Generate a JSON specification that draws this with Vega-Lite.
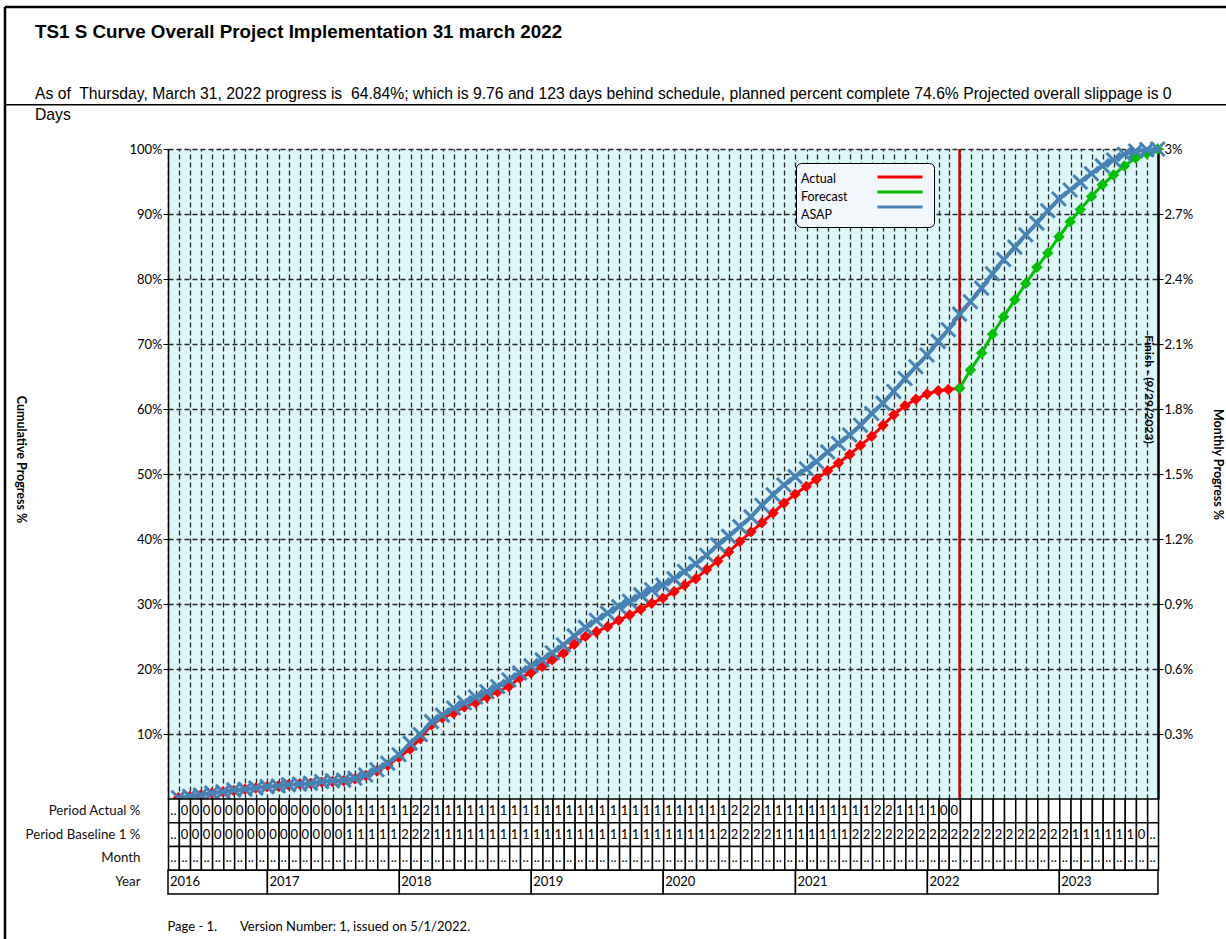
{
"$schema": "https://vega.github.io/schema/vega-lite/v6.json",
"width": 990,
"height": 745,
"autosize": {"type": "none"},
"padding": {"left": 168, "top": 149, "right": 68, "bottom": 45},
"background": "white",
"config": {
  "font": "Lato",
  "view": {"fill": "#DDF6F8", "stroke": null},
  "axis": {"labelFont": "Lato", "titleFont": "Lato", "labelColor": "black", "titleColor": "black", "domainColor": "black", "tickColor": "black"}
},
"title": {
  "text": "TS1 S Curve Overall Project Implementation 31 march 2022",
  "subtitle": ["As of\u00a0 Thursday, March 31, 2022 progress is\u00a0 64.84%; which is 9.76 and 123 days behind schedule, planned percent complete 74.6% Projected overall slippage is 0", "Days"],
  "anchor": "start", "frame": "group", "orient": "top",
  "dx": -133, "offset": -117,
  "font": "Liberation Sans", "fontSize": 18.8, "fontWeight": "bold", "color": "black",
  "subtitleFont": "Liberation Sans", "subtitleFontSize": 15.7, "subtitleColor": "black",
  "subtitlePadding": 45, "subtitleLineHeight": 21
},
"datasets": {
  "months": [
    {"d":"2016-04-30","ASAP":0.2,"Actual":0.2,"Forecast":null,"Period Actual %":"..","Period Baseline 1 %":"..","Month":".."},
    {"d":"2016-05-31","ASAP":0.4,"Actual":0.4,"Forecast":null,"Period Actual %":"0","Period Baseline 1 %":"0","Month":".."},
    {"d":"2016-06-30","ASAP":0.6,"Actual":0.6,"Forecast":null,"Period Actual %":"0","Period Baseline 1 %":"0","Month":".."},
    {"d":"2016-07-31","ASAP":0.9,"Actual":0.9,"Forecast":null,"Period Actual %":"0","Period Baseline 1 %":"0","Month":".."},
    {"d":"2016-08-31","ASAP":1.1,"Actual":1.1,"Forecast":null,"Period Actual %":"0","Period Baseline 1 %":"0","Month":".."},
    {"d":"2016-09-30","ASAP":1.4,"Actual":1.3,"Forecast":null,"Period Actual %":"0","Period Baseline 1 %":"0","Month":".."},
    {"d":"2016-10-31","ASAP":1.5,"Actual":1.5,"Forecast":null,"Period Actual %":"0","Period Baseline 1 %":"0","Month":".."},
    {"d":"2016-11-30","ASAP":1.7,"Actual":1.7,"Forecast":null,"Period Actual %":"0","Period Baseline 1 %":"0","Month":".."},
    {"d":"2016-12-31","ASAP":1.9,"Actual":1.9,"Forecast":null,"Period Actual %":"0","Period Baseline 1 %":"0","Month":".."},
    {"d":"2017-01-31","ASAP":2.0,"Actual":2.0,"Forecast":null,"Period Actual %":"0","Period Baseline 1 %":"0","Month":".."},
    {"d":"2017-02-28","ASAP":2.2,"Actual":2.2,"Forecast":null,"Period Actual %":"0","Period Baseline 1 %":"0","Month":".."},
    {"d":"2017-03-31","ASAP":2.3,"Actual":2.3,"Forecast":null,"Period Actual %":"0","Period Baseline 1 %":"0","Month":".."},
    {"d":"2017-04-30","ASAP":2.4,"Actual":2.4,"Forecast":null,"Period Actual %":"0","Period Baseline 1 %":"0","Month":".."},
    {"d":"2017-05-31","ASAP":2.7,"Actual":2.6,"Forecast":null,"Period Actual %":"0","Period Baseline 1 %":"0","Month":".."},
    {"d":"2017-06-30","ASAP":2.8,"Actual":2.7,"Forecast":null,"Period Actual %":"0","Period Baseline 1 %":"0","Month":".."},
    {"d":"2017-07-31","ASAP":2.9,"Actual":2.8,"Forecast":null,"Period Actual %":"0","Period Baseline 1 %":"0","Month":".."},
    {"d":"2017-08-31","ASAP":3.2,"Actual":3.1,"Forecast":null,"Period Actual %":"1","Period Baseline 1 %":"1","Month":".."},
    {"d":"2017-09-30","ASAP":3.7,"Actual":3.6,"Forecast":null,"Period Actual %":"1","Period Baseline 1 %":"1","Month":".."},
    {"d":"2017-10-31","ASAP":4.5,"Actual":4.3,"Forecast":null,"Period Actual %":"1","Period Baseline 1 %":"1","Month":".."},
    {"d":"2017-11-30","ASAP":5.5,"Actual":5.2,"Forecast":null,"Period Actual %":"1","Period Baseline 1 %":"1","Month":".."},
    {"d":"2017-12-31","ASAP":6.8,"Actual":6.4,"Forecast":null,"Period Actual %":"1","Period Baseline 1 %":"1","Month":".."},
    {"d":"2018-01-31","ASAP":8.6,"Actual":7.7,"Forecast":null,"Period Actual %":"1","Period Baseline 1 %":"2","Month":".."},
    {"d":"2018-02-28","ASAP":9.9,"Actual":9.3,"Forecast":null,"Period Actual %":"2","Period Baseline 1 %":"2","Month":".."},
    {"d":"2018-03-31","ASAP":11.9,"Actual":11.4,"Forecast":null,"Period Actual %":"2","Period Baseline 1 %":"2","Month":".."},
    {"d":"2018-04-30","ASAP":12.9,"Actual":12.5,"Forecast":null,"Period Actual %":"1","Period Baseline 1 %":"1","Month":".."},
    {"d":"2018-05-31","ASAP":14.0,"Actual":13.2,"Forecast":null,"Period Actual %":"1","Period Baseline 1 %":"1","Month":".."},
    {"d":"2018-06-30","ASAP":14.8,"Actual":14.2,"Forecast":null,"Period Actual %":"1","Period Baseline 1 %":"1","Month":".."},
    {"d":"2018-07-31","ASAP":15.7,"Actual":14.8,"Forecast":null,"Period Actual %":"1","Period Baseline 1 %":"1","Month":".."},
    {"d":"2018-08-31","ASAP":16.5,"Actual":15.7,"Forecast":null,"Period Actual %":"1","Period Baseline 1 %":"1","Month":".."},
    {"d":"2018-09-30","ASAP":17.3,"Actual":16.5,"Forecast":null,"Period Actual %":"1","Period Baseline 1 %":"1","Month":".."},
    {"d":"2018-10-31","ASAP":18.3,"Actual":17.3,"Forecast":null,"Period Actual %":"1","Period Baseline 1 %":"1","Month":".."},
    {"d":"2018-11-30","ASAP":19.4,"Actual":18.6,"Forecast":null,"Period Actual %":"1","Period Baseline 1 %":"1","Month":".."},
    {"d":"2018-12-31","ASAP":20.5,"Actual":19.4,"Forecast":null,"Period Actual %":"1","Period Baseline 1 %":"1","Month":".."},
    {"d":"2019-01-31","ASAP":21.4,"Actual":20.4,"Forecast":null,"Period Actual %":"1","Period Baseline 1 %":"1","Month":".."},
    {"d":"2019-02-28","ASAP":22.5,"Actual":21.4,"Forecast":null,"Period Actual %":"1","Period Baseline 1 %":"1","Month":".."},
    {"d":"2019-03-31","ASAP":23.7,"Actual":22.4,"Forecast":null,"Period Actual %":"1","Period Baseline 1 %":"1","Month":".."},
    {"d":"2019-04-30","ASAP":25.1,"Actual":23.8,"Forecast":null,"Period Actual %":"1","Period Baseline 1 %":"1","Month":".."},
    {"d":"2019-05-31","ASAP":26.4,"Actual":25.0,"Forecast":null,"Period Actual %":"1","Period Baseline 1 %":"1","Month":".."},
    {"d":"2019-06-30","ASAP":27.5,"Actual":25.7,"Forecast":null,"Period Actual %":"1","Period Baseline 1 %":"1","Month":".."},
    {"d":"2019-07-31","ASAP":28.6,"Actual":26.5,"Forecast":null,"Period Actual %":"1","Period Baseline 1 %":"1","Month":".."},
    {"d":"2019-08-31","ASAP":29.6,"Actual":27.5,"Forecast":null,"Period Actual %":"1","Period Baseline 1 %":"1","Month":".."},
    {"d":"2019-09-30","ASAP":30.4,"Actual":28.3,"Forecast":null,"Period Actual %":"1","Period Baseline 1 %":"1","Month":".."},
    {"d":"2019-10-31","ASAP":31.4,"Actual":29.2,"Forecast":null,"Period Actual %":"1","Period Baseline 1 %":"1","Month":".."},
    {"d":"2019-11-30","ASAP":32.2,"Actual":30.1,"Forecast":null,"Period Actual %":"1","Period Baseline 1 %":"1","Month":".."},
    {"d":"2019-12-31","ASAP":32.9,"Actual":30.9,"Forecast":null,"Period Actual %":"1","Period Baseline 1 %":"1","Month":".."},
    {"d":"2020-01-31","ASAP":33.9,"Actual":31.9,"Forecast":null,"Period Actual %":"1","Period Baseline 1 %":"1","Month":".."},
    {"d":"2020-02-29","ASAP":35.0,"Actual":32.9,"Forecast":null,"Period Actual %":"1","Period Baseline 1 %":"1","Month":".."},
    {"d":"2020-03-31","ASAP":36.2,"Actual":33.9,"Forecast":null,"Period Actual %":"1","Period Baseline 1 %":"1","Month":".."},
    {"d":"2020-04-30","ASAP":37.5,"Actual":35.3,"Forecast":null,"Period Actual %":"1","Period Baseline 1 %":"1","Month":".."},
    {"d":"2020-05-31","ASAP":39.1,"Actual":36.6,"Forecast":null,"Period Actual %":"1","Period Baseline 1 %":"1","Month":".."},
    {"d":"2020-06-30","ASAP":40.4,"Actual":38.0,"Forecast":null,"Period Actual %":"1","Period Baseline 1 %":"2","Month":".."},
    {"d":"2020-07-31","ASAP":41.9,"Actual":39.6,"Forecast":null,"Period Actual %":"2","Period Baseline 1 %":"2","Month":".."},
    {"d":"2020-08-31","ASAP":43.4,"Actual":41.1,"Forecast":null,"Period Actual %":"2","Period Baseline 1 %":"2","Month":".."},
    {"d":"2020-09-30","ASAP":45.2,"Actual":42.5,"Forecast":null,"Period Actual %":"2","Period Baseline 1 %":"2","Month":".."},
    {"d":"2020-10-31","ASAP":46.8,"Actual":44.0,"Forecast":null,"Period Actual %":"1","Period Baseline 1 %":"2","Month":".."},
    {"d":"2020-11-30","ASAP":48.3,"Actual":45.5,"Forecast":null,"Period Actual %":"1","Period Baseline 1 %":"1","Month":".."},
    {"d":"2020-12-31","ASAP":49.6,"Actual":46.9,"Forecast":null,"Period Actual %":"1","Period Baseline 1 %":"1","Month":".."},
    {"d":"2021-01-31","ASAP":50.8,"Actual":48.1,"Forecast":null,"Period Actual %":"1","Period Baseline 1 %":"1","Month":".."},
    {"d":"2021-02-28","ASAP":51.9,"Actual":49.2,"Forecast":null,"Period Actual %":"1","Period Baseline 1 %":"1","Month":".."},
    {"d":"2021-03-31","ASAP":53.4,"Actual":50.5,"Forecast":null,"Period Actual %":"1","Period Baseline 1 %":"1","Month":".."},
    {"d":"2021-04-30","ASAP":54.7,"Actual":51.7,"Forecast":null,"Period Actual %":"1","Period Baseline 1 %":"1","Month":".."},
    {"d":"2021-05-31","ASAP":56.0,"Actual":53.0,"Forecast":null,"Period Actual %":"1","Period Baseline 1 %":"1","Month":".."},
    {"d":"2021-06-30","ASAP":57.5,"Actual":54.4,"Forecast":null,"Period Actual %":"1","Period Baseline 1 %":"2","Month":".."},
    {"d":"2021-07-31","ASAP":59.3,"Actual":55.8,"Forecast":null,"Period Actual %":"1","Period Baseline 1 %":"2","Month":".."},
    {"d":"2021-08-31","ASAP":60.9,"Actual":57.5,"Forecast":null,"Period Actual %":"2","Period Baseline 1 %":"2","Month":".."},
    {"d":"2021-09-30","ASAP":62.7,"Actual":59.1,"Forecast":null,"Period Actual %":"2","Period Baseline 1 %":"2","Month":".."},
    {"d":"2021-10-31","ASAP":64.7,"Actual":60.5,"Forecast":null,"Period Actual %":"1","Period Baseline 1 %":"2","Month":".."},
    {"d":"2021-11-30","ASAP":66.5,"Actual":61.5,"Forecast":null,"Period Actual %":"1","Period Baseline 1 %":"2","Month":".."},
    {"d":"2021-12-31","ASAP":68.3,"Actual":62.3,"Forecast":null,"Period Actual %":"1","Period Baseline 1 %":"2","Month":".."},
    {"d":"2022-01-31","ASAP":70.4,"Actual":62.8,"Forecast":null,"Period Actual %":"1","Period Baseline 1 %":"2","Month":".."},
    {"d":"2022-02-28","ASAP":72.2,"Actual":63.0,"Forecast":null,"Period Actual %":"0","Period Baseline 1 %":"2","Month":".."},
    {"d":"2022-03-31","ASAP":74.6,"Actual":63.2,"Forecast":63.2,"Period Actual %":"0","Period Baseline 1 %":"2","Month":".."},
    {"d":"2022-04-30","ASAP":76.5,"Actual":null,"Forecast":66.0,"Period Actual %":"","Period Baseline 1 %":"2","Month":".."},
    {"d":"2022-05-31","ASAP":78.6,"Actual":null,"Forecast":68.6,"Period Actual %":"","Period Baseline 1 %":"2","Month":".."},
    {"d":"2022-06-30","ASAP":80.8,"Actual":null,"Forecast":71.5,"Period Actual %":"","Period Baseline 1 %":"2","Month":".."},
    {"d":"2022-07-31","ASAP":83.0,"Actual":null,"Forecast":74.2,"Period Actual %":"","Period Baseline 1 %":"2","Month":".."},
    {"d":"2022-08-31","ASAP":84.9,"Actual":null,"Forecast":76.8,"Period Actual %":"","Period Baseline 1 %":"2","Month":".."},
    {"d":"2022-09-30","ASAP":86.8,"Actual":null,"Forecast":79.3,"Period Actual %":"","Period Baseline 1 %":"2","Month":".."},
    {"d":"2022-10-31","ASAP":88.6,"Actual":null,"Forecast":81.8,"Period Actual %":"","Period Baseline 1 %":"2","Month":".."},
    {"d":"2022-11-30","ASAP":90.5,"Actual":null,"Forecast":84.0,"Period Actual %":"","Period Baseline 1 %":"2","Month":".."},
    {"d":"2022-12-31","ASAP":92.3,"Actual":null,"Forecast":86.5,"Period Actual %":"","Period Baseline 1 %":"2","Month":".."},
    {"d":"2023-01-31","ASAP":93.7,"Actual":null,"Forecast":88.8,"Period Actual %":"","Period Baseline 1 %":"2","Month":".."},
    {"d":"2023-02-28","ASAP":94.9,"Actual":null,"Forecast":90.7,"Period Actual %":"","Period Baseline 1 %":"1","Month":".."},
    {"d":"2023-03-31","ASAP":96.2,"Actual":null,"Forecast":92.7,"Period Actual %":"","Period Baseline 1 %":"1","Month":".."},
    {"d":"2023-04-30","ASAP":97.4,"Actual":null,"Forecast":94.5,"Period Actual %":"","Period Baseline 1 %":"1","Month":".."},
    {"d":"2023-05-31","ASAP":98.3,"Actual":null,"Forecast":96.0,"Period Actual %":"","Period Baseline 1 %":"1","Month":".."},
    {"d":"2023-06-30","ASAP":99.2,"Actual":null,"Forecast":97.4,"Period Actual %":"","Period Baseline 1 %":"1","Month":".."},
    {"d":"2023-07-31","ASAP":99.7,"Actual":null,"Forecast":98.6,"Period Actual %":"","Period Baseline 1 %":"1","Month":".."},
    {"d":"2023-08-31","ASAP":99.9,"Actual":null,"Forecast":99.3,"Period Actual %":"","Period Baseline 1 %":"0","Month":".."},
    {"d":"2023-09-30","ASAP":100,"Actual":null,"Forecast":100,"Period Actual %":"","Period Baseline 1 %":"..","Month":".."}
  ],
  "years": [
    {"Year":"2016","start":"2016-04-01","end":"2017-01-01"},
    {"Year":"2017","start":"2017-01-01","end":"2018-01-01"},
    {"Year":"2018","start":"2018-01-01","end":"2019-01-01"},
    {"Year":"2019","start":"2019-01-01","end":"2020-01-01"},
    {"Year":"2020","start":"2020-01-01","end":"2021-01-01"},
    {"Year":"2021","start":"2021-01-01","end":"2022-01-01"},
    {"Year":"2022","start":"2022-01-01","end":"2023-01-01"},
    {"Year":"2023","start":"2023-01-01","end":"2023-10-01"}
  ]
},
"layer": [
  {
    "layer": [
      {
        "data": {"values": [{}]},
        "mark": {"type": "rule", "color": "black", "strokeWidth": 2.5},
        "encoding": {
          "x": {"datum": {"year": 2015, "month": 1, "date": 6, "utc": true}, "type": "temporal"},
          "x2": {"datum": {"year": 2025, "month": 1, "date": 1, "utc": true}},
          "y": {"datum": 121.85, "type": "quantitative"}
        }
      },
      {
        "data": {"values": [{}]},
        "mark": {"type": "rule", "color": "black", "strokeWidth": 2.5},
        "encoding": {
          "x": {"datum": {"year": 2015, "month": 1, "date": 6, "utc": true}, "type": "temporal"},
          "y": {"datum": 121.85, "type": "quantitative"},
          "y2": {"datum": -25}
        }
      },
      {
        "data": {"values": [{}]},
        "mark": {"type": "rule", "color": "black", "strokeWidth": 1.5},
        "encoding": {
          "x": {"datum": {"year": 2015, "month": 1, "date": 6, "utc": true}, "type": "temporal"},
          "x2": {"datum": {"year": 2025, "month": 1, "date": 1, "utc": true}},
          "y": {"datum": 106.8, "type": "quantitative"}
        }
      },
      {
        "data": {"values": [{"date": "2022-03-31"}]},
        "mark": {"type": "rule", "color": "#C00000", "strokeWidth": 2.5},
        "encoding": {
          "x": {"field": "date", "type": "temporal"},
          "y": {"datum": 0, "type": "quantitative"},
          "y2": {"datum": 100}
        }
      },
      {
        "data": {"name": "months"},
        "transform": [{"fold": ["Actual", "Forecast"], "as": ["series", "pct"]}, {"filter": "isValid(datum.pct)"}],
        "mark": {"type": "line", "strokeWidth": 3},
        "encoding": {
          "x": {
            "field": "d", "type": "temporal",
            "scale": {"type": "utc", "nice": false, "domain": [{"year": 2016, "month": 4, "date": 1, "utc": true}, {"year": 2023, "month": 10, "date": 1, "utc": true}]},
            "axis": {
              "orient": "top",
              "grid": true, "tickCount": {"interval": "month", "step": 1},
              "labels": false, "ticks": false, "domain": false,
              "gridColor": "#262626", "gridDash": [5, 3], "gridWidth": 1.3,
              "title": "Page - 1.\u00a0\u00a0\u00a0\u00a0\u00a0\u00a0\u00a0Version Number: 1, issued on 5/1/2022.",
              "titleX": -1, "titleY": 781, "titleAlign": "left", "titleBaseline": "alphabetic",
              "titleFontSize": 13, "titleFontWeight": "normal"
            }
          },
          "y": {
            "field": "pct", "type": "quantitative",
            "scale": {"domain": [0, 100], "range": [650, 0], "nice": false},
            "axis": {
              "orient": "left", "values": [10, 20, 30, 40, 50, 60, 70, 80, 90, 100],
              "labelExpr": "datum.value + '%'",
              "grid": true, "gridColor": "#262626", "gridDash": [5, 3], "gridWidth": 1.3,
              "domainWidth": 1.5, "tickSize": 5, "labelPadding": 1, "labelFontSize": 13,
              "title": "Cumulative Progress %", "titleAngle": 90, "titleX": -148, "titleY": 310,
              "titleAlign": "center", "titleBaseline": "middle", "titleFontSize": 12.5, "titleFontWeight": "bold"
            }
          },
          "color": {
            "field": "series", "type": "nominal",
            "scale": {"domain": ["Actual", "Forecast", "ASAP"], "range": ["#FF0000", "#00C000", "#4682B4"]},
            "legend": {
              "orient": "none", "legendX": 628, "legendY": 14,
              "title": ["Actual", "Forecast", "ASAP"], "titleOrient": "left",
              "titleFont": "Lato", "titleFontSize": 12.5, "titleFontWeight": "normal", "titleColor": "black",
              "titleLineHeight": 18, "titleBaseline": "top", "titlePadding": 43,
              "labelExpr": "''", "labelOffset": 14,
              "symbolType": "M-3,0H3", "symbolSize": 225, "symbolStrokeWidth": 3,
              "rowPadding": 0, "padding": 5,
              "fillColor": "#F2F7FC", "strokeColor": "black", "cornerRadius": 5
            }
          }
        }
      },
      {
        "data": {"name": "months"},
        "transform": [{"fold": ["Actual", "Forecast"], "as": ["series", "pct"]}, {"filter": "isValid(datum.pct)"}],
        "mark": {"type": "point", "shape": "diamond", "filled": true, "size": 130, "opacity": 1},
        "encoding": {
          "x": {"field": "d", "type": "temporal"},
          "y": {"field": "pct", "type": "quantitative"},
          "color": {"field": "series", "type": "nominal", "legend": null}
        }
      },
      {
        "data": {"values": [{"label": "Finish - (9/29/2023)", "date": "2023-09-29"}]},
        "mark": {"type": "text", "angle": 90, "dy": 8, "align": "center", "baseline": "middle", "font": "Lato", "fontSize": 12, "fontWeight": "bold", "color": "black"},
        "encoding": {
          "x": {"field": "date", "type": "temporal"},
          "y": {"datum": 63, "type": "quantitative"},
          "text": {"field": "label"}
        }
      }
    ]
  },
  {
    "data": {"name": "months"},
    "layer": [
      {
        "mark": {"type": "line", "color": "#4682B4", "strokeWidth": 4},
        "encoding": {
          "x": {"field": "d", "type": "temporal"},
          "y": {
            "field": "ASAP", "type": "quantitative",
            "scale": {"domain": [0, 100], "range": [650, 0], "nice": false},
            "axis": {
              "orient": "right", "values": [10, 20, 30, 40, 50, 60, 70, 80, 90, 100],
              "labelExpr": "datum.value == 100 ? '3%' : format(datum.value * 0.03, '.1f') + '%'",
              "grid": false, "domainWidth": 2.5, "tickSize": 5, "labelPadding": 1, "labelFontSize": 13,
              "title": "Monthly Progress %", "titleAngle": 90, "titleX": 59, "titleY": 315,
              "titleAlign": "center", "titleBaseline": "middle", "titleFontSize": 12.5, "titleFontWeight": "bold"
            }
          }
        }
      },
      {
        "mark": {"type": "point", "shape": "M-1,-1L1,1M-1,1L1,-1", "filled": false, "size": 196, "strokeWidth": 3, "color": "#4682B4", "opacity": 1},
        "encoding": {
          "x": {"field": "d", "type": "temporal"},
          "y": {"field": "ASAP", "type": "quantitative"}
        }
      }
    ]
  },
  {
    "layer": [
      {
        "data": {"name": "months"},
        "transform": [{"fold": ["Period Actual %", "Period Baseline 1 %", "Month"], "as": ["row", "txt"]}],
        "mark": {"type": "rect", "fill": "white", "stroke": "black", "strokeWidth": 1.5},
        "encoding": {
          "x": {"field": "d", "type": "temporal", "timeUnit": "utcyearmonth", "scale": {"type": "utc"}},
          "y": {
            "field": "row", "type": "nominal",
            "scale": {"domain": ["Period Actual %", "Period Baseline 1 %", "Month", "Year"], "range": [650, 745], "paddingInner": 0, "paddingOuter": 0},
            "axis": {"orient": "left", "title": null, "domain": false, "ticks": false, "grid": false, "labelPadding": 28, "labelFontSize": 13.3, "labelColor": "#111"}
          }
        }
      },
      {
        "data": {"name": "months"},
        "transform": [{"fold": ["Period Actual %", "Period Baseline 1 %", "Month"], "as": ["row", "txt"]}],
        "mark": {"type": "text", "fontSize": 13, "color": "black", "baseline": "middle"},
        "encoding": {
          "x": {"field": "d", "type": "temporal", "timeUnit": "utcyearmonth", "bandPosition": 0.5},
          "y": {"field": "row", "type": "nominal"},
          "text": {"field": "txt"}
        }
      },
      {
        "data": {"name": "years"},
        "mark": {"type": "rect", "fill": "white", "stroke": "black", "strokeWidth": 1.5},
        "encoding": {
          "x": {"field": "start", "type": "temporal"},
          "x2": {"field": "end"},
          "y": {"datum": "Year", "type": "nominal"}
        }
      },
      {
        "data": {"name": "years"},
        "mark": {"type": "text", "align": "left", "dx": 2, "fontSize": 13, "color": "black", "baseline": "middle"},
        "encoding": {
          "x": {"field": "start", "type": "temporal"},
          "y": {"datum": "Year", "type": "nominal"},
          "text": {"field": "Year"}
        }
      }
    ]
  }
],
"resolve": {"scale": {"y": "independent"}}
}
